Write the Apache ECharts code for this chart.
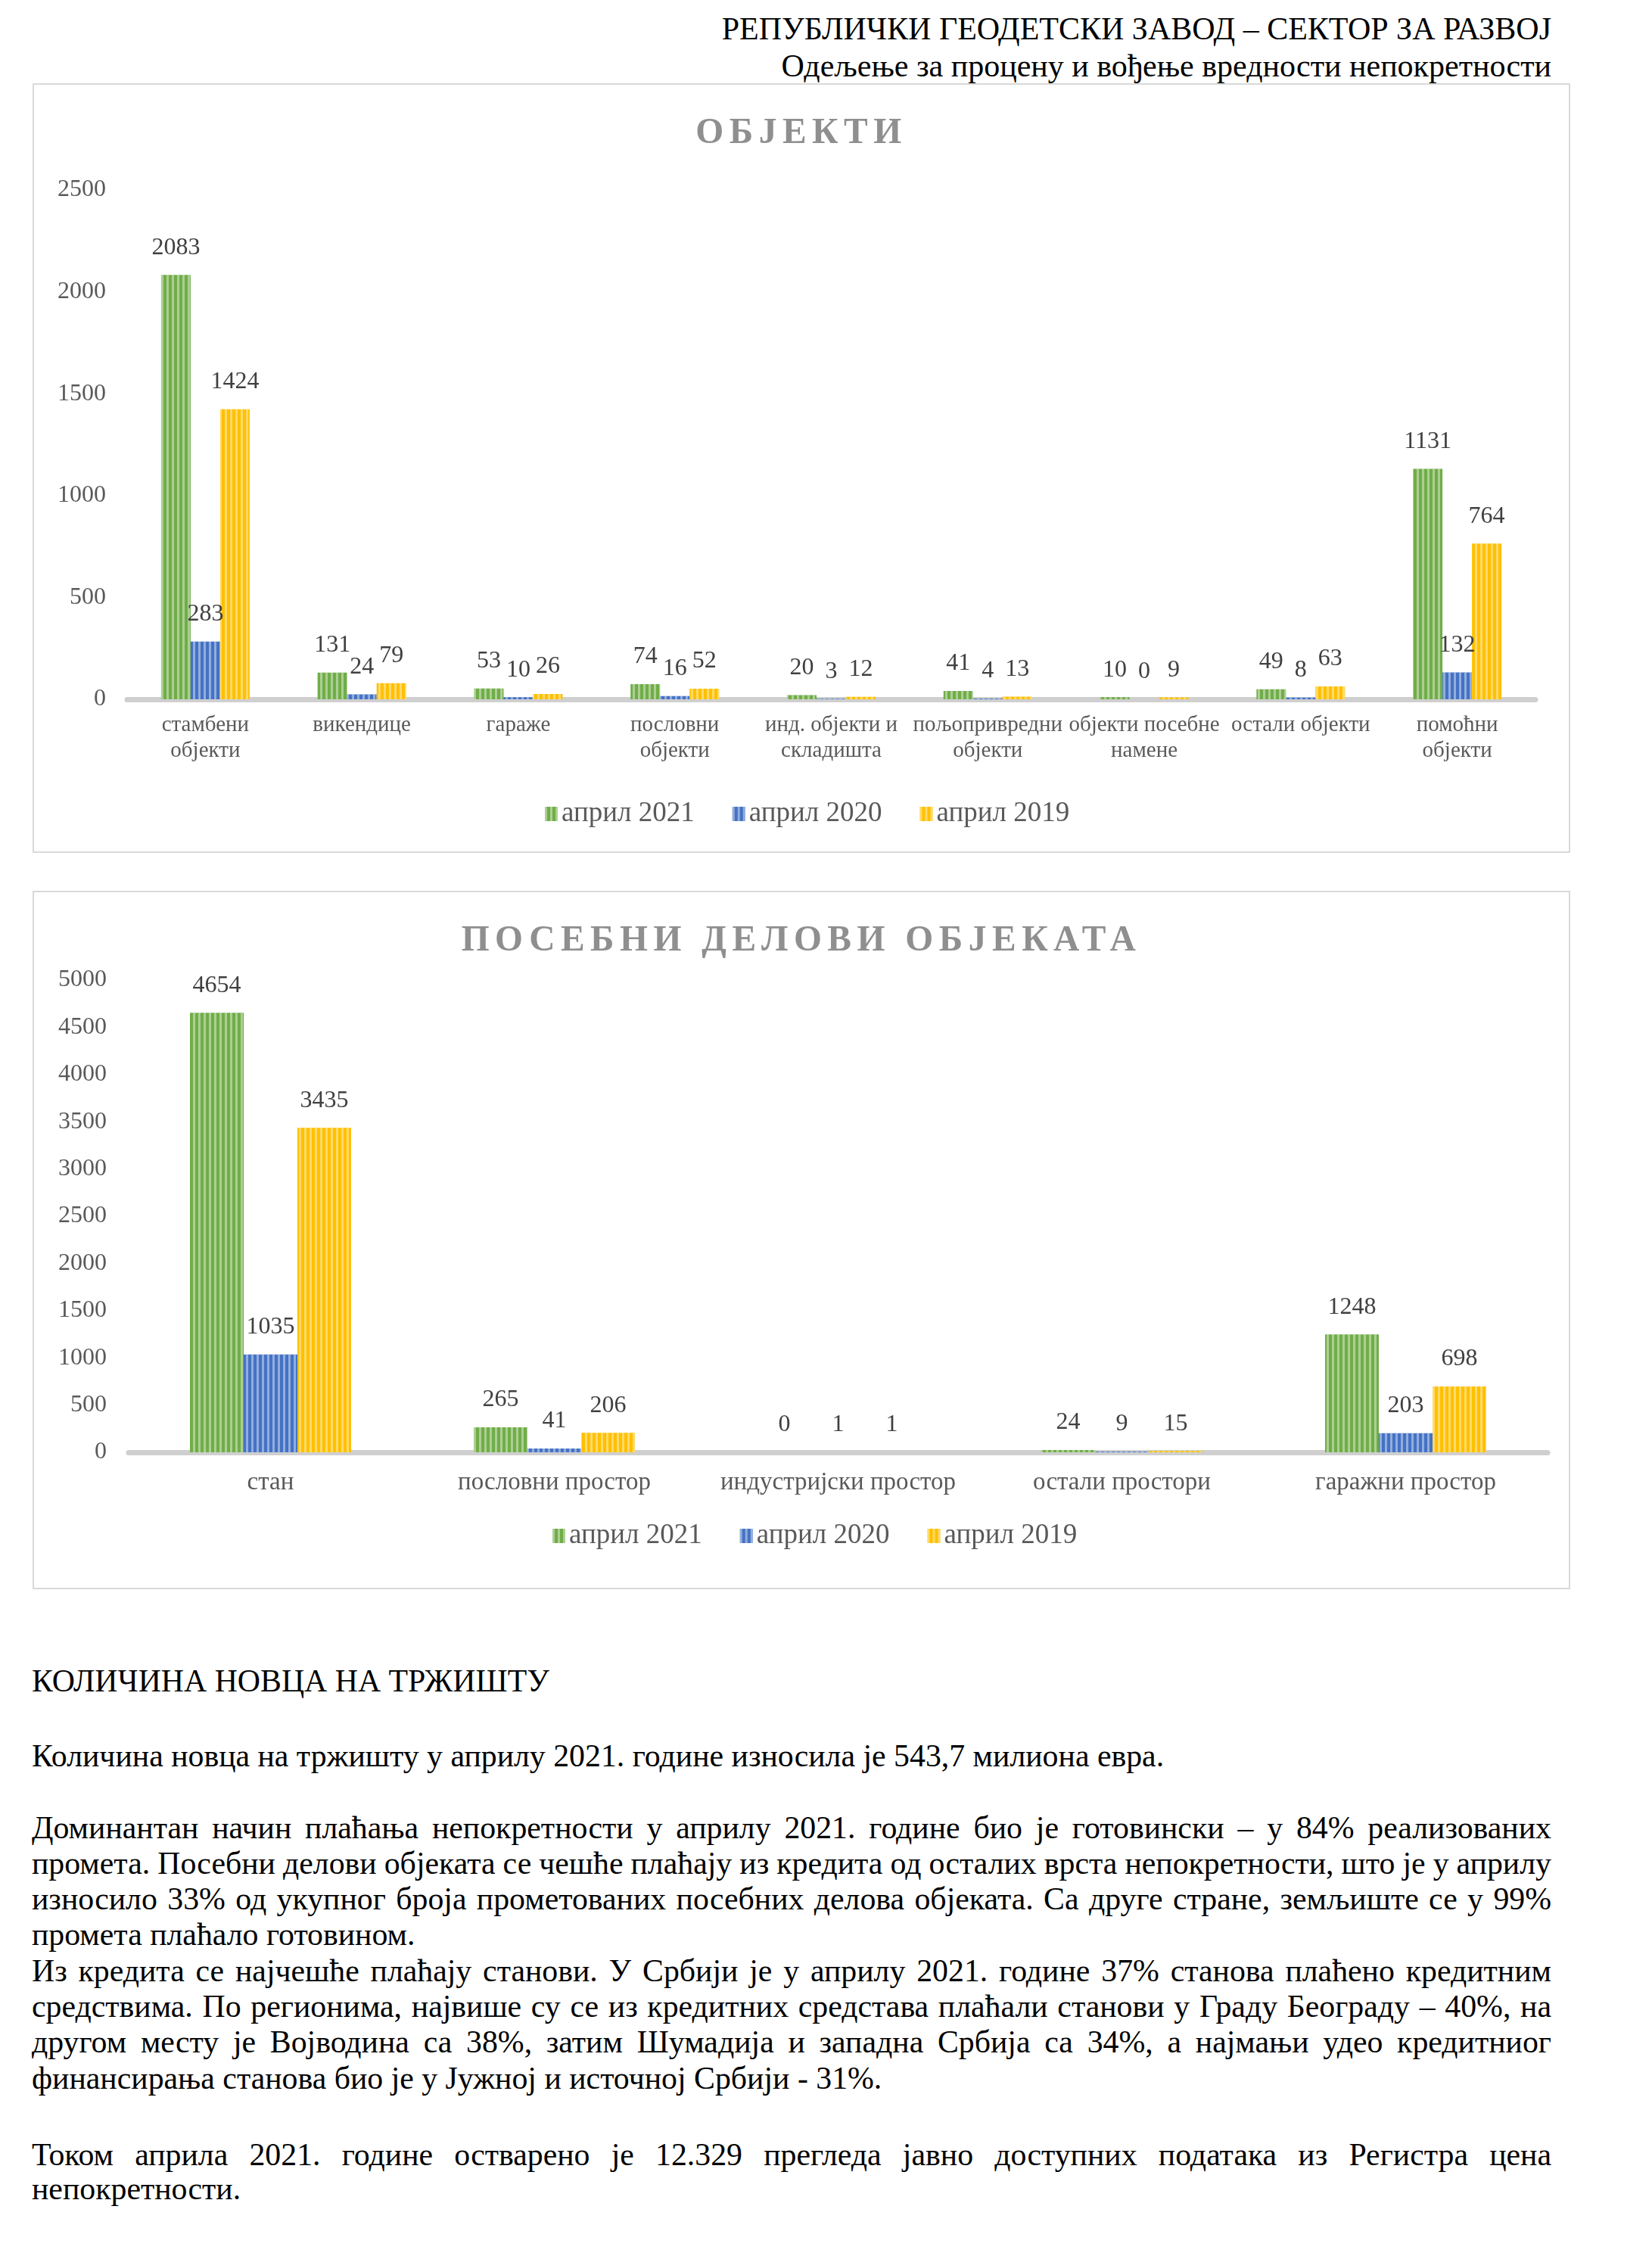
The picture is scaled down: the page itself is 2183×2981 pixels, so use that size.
<!DOCTYPE html>
<html>
<head>
<meta charset="utf-8">
<script src="https://cdn.jsdelivr.net/npm/echarts@6/dist/echarts.min.js"></script>
<style>
html,body{margin:0;padding:0;background:#fff;}
body{width:2183px;height:2981px;position:relative;font-family:"Liberation Serif","Times New Roman",serif;color:#000;}
.hdr{position:absolute;right:133px;white-space:nowrap;font-size:42px;line-height:48px;}
.box{position:absolute;left:43px;width:2032px;border:2px solid #d9d9d9;box-sizing:border-box;background:#fff;}
.chart{position:absolute;left:0;top:0;width:100%;height:100%;}
.ttl{position:absolute;left:0;width:100%;text-align:center;font-weight:bold;color:#8f8f8f;font-size:47.5px;line-height:56px;letter-spacing:7.5px;z-index:2;pointer-events:none;}
.ln{position:absolute;left:42px;font-size:41.8px;height:48px;line-height:48px;white-space:nowrap;}
</style>
</head>
<body>
<div class="hdr" style="top:14px;">РЕПУБЛИЧКИ ГЕОДЕТСКИ ЗАВОД – СЕКТОР ЗА РАЗВОЈ</div>
<div class="hdr" style="top:63px;">Одељење за процену и вођење вредности непокретности</div>

<div class="box" style="top:110px;height:1017px;">
  <div class="ttl" style="top:33px;">ОБЈЕКТИ</div>
  <div id="c1" class="chart"></div>
</div>

<div class="box" style="top:1177px;height:923px;">
  <div class="ttl" style="top:33px;">ПОСЕБНИ ДЕЛОВИ ОБЈЕКАТА</div>
  <div id="c2" class="chart"></div>
</div>

<div class="ln" style="top:2197px;">КОЛИЧИНА НОВЦА НА ТРЖИШТУ</div>
<div class="ln" style="top:2296px;">Количина новца на тржишту у априлу 2021. године износила је 543,7 милиона евра.</div>
<div class="ln j" style="top:2391px;">Доминантан начин плаћања непокретности у априлу 2021. године био је готовински – у 84% реализованих</div>
<div class="ln j" style="top:2438px;">промета. Посебни делови објеката се чешће плаћају из кредита од осталих врста непокретности, што је у априлу</div>
<div class="ln j" style="top:2485px;">износило 33% од укупног броја прометованих посебних делова објеката. Са друге стране, земљиште се у 99%</div>
<div class="ln" style="top:2532px;">промета плаћало готовином.</div>
<div class="ln j" style="top:2580px;">Из кредита се најчешће плаћају станови. У Србији је у априлу 2021. године 37% станова плаћено кредитним</div>
<div class="ln j" style="top:2627px;">средствима. По регионима, највише су се из кредитних средстава плаћали станови у Граду Београду – 40%, на</div>
<div class="ln j" style="top:2674px;">другом месту је Војводина са 38%, затим Шумадија и западна Србија са 34%, а најмањи удео кредитниог</div>
<div class="ln" style="top:2722px;">финансирања станова био је у Јужној и источној Србији - 31%.</div>
<div class="ln j" style="top:2823px;">Током априла 2021. године остварено је 12.329 прегледа јавно доступних података из Регистра цена</div>
<div class="ln" style="top:2868px;">непокретности.</div>

<script>
// ---------- DATA ----------
const seriesNames = ['април 2021', 'април 2020', 'април 2019'];

const objCategories = ['стамбени\nобјекти', 'викендице', 'гараже', 'пословни\nобјекти', 'инд. објекти и\nскладишта', 'пољопривредни\nобјекти', 'објекти посебне\nнамене', 'остали објекти', 'помоћни\nобјекти'];
const obj2021 = [2083, 131, 53, 74, 20, 41, 10, 49, 1131];
const obj2020 = [283, 24, 10, 16, 3, 4, 0, 8, 132];
const obj2019 = [1424, 79, 26, 52, 12, 13, 9, 63, 764];
const objTicks = [0, 500, 1000, 1500, 2000, 2500];

const partCategories = ['стан', 'пословни простор', 'индустријски простор', 'остали простори', 'гаражни простор'];
const part2021 = [4654, 265, 0, 24, 1248];
const part2020 = [1035, 41, 1, 9, 203];
const part2019 = [3435, 206, 1, 15, 698];
const partTicks = [0, 500, 1000, 1500, 2000, 2500, 3000, 3500, 4000, 4500, 5000];

// ---------- justify text lines to full width ----------
const TEXT_WIDTH = 2008;
document.querySelectorAll('.ln.j').forEach(el => {
  const w = el.getBoundingClientRect().width;
  const spaces = (el.textContent.match(/ /g) || []).length;
  if (spaces) el.style.wordSpacing = ((TEXT_WIDTH - w) / spaces) + 'px';
});

// ---------- STYLE ----------
const colors = ['#70AD47', '#4472C4', '#FFC000'];
const FONT = '"Liberation Serif", "Times New Roman", serif';
const decal = {
  symbol: 'rect', symbolSize: 1,
  dashArrayX: [3, 4], dashArrayY: [1, 0],
  color: 'rgba(255,255,255,0.42)'
};

function makeOption(cats, dataArr, ticks, cfg) {
  return {
    animation: false,
    textStyle: { fontFamily: FONT },
    legend: {
      data: seriesNames,
      top: cfg.legendTop,
      left: cfg.legendLeft,
      itemWidth: 17, itemHeight: 19, itemGap: 50,
      icon: 'rect',
      textStyle: { fontFamily: FONT, fontSize: 37, color: '#595959' }
    },
    grid: cfg.grid,
    xAxis: {
      type: 'category',
      data: cats,
      axisLine: { show: true, lineStyle: { color: '#cfcfcf', width: 7 } },
      axisTick: { show: false },
      axisLabel: {
        interval: 0, fontFamily: FONT, fontSize: cfg.catFont, color: '#595959',
        lineHeight: 34, margin: cfg.catMargin
      }
    },
    yAxis: {
      type: 'value',
      min: ticks[0], max: ticks[ticks.length - 1], interval: ticks[1] - ticks[0],
      splitLine: { show: false },
      axisLine: { show: false },
      axisTick: { show: false },
      axisLabel: { fontFamily: FONT, fontSize: 32, color: '#595959', margin: cfg.valMargin,
        formatter: v => String(v) }
    },
    series: dataArr.map((d, i) => ({
      name: seriesNames[i],
      type: 'bar',
      data: d,
      barWidth: cfg.barWidth,
      barGap: '0%',
      itemStyle: { color: colors[i], decal: decal },
      label: {
        show: true, position: 'top', distance: 20,
        fontFamily: FONT, fontSize: 32, color: '#404040'
      }
    }))
  };
}

const c1 = echarts.init(document.getElementById('c1'));
c1.setOption(makeOption(objCategories, [obj2021, obj2020, obj2019], objTicks, {
  grid: { left: 123, right: 44, top: 139, bottom: 201 },
  legendTop: 940,
  legendLeft: 670,
  catFont: 29,
  catMargin: 17,
  valMargin: 28,
  barWidth: 39
}));

const c2 = echarts.init(document.getElementById('c2'));
c2.setOption(makeOption(partCategories, [part2021, part2020, part2019], partTicks, {
  grid: { left: 125, right: 28, top: 116, bottom: 179 },
  legendTop: 827,
  legendLeft: 680,
  catFont: 33,
  catMargin: 23,
  valMargin: 29,
  barWidth: 71
}));
</script>
</body>
</html>
